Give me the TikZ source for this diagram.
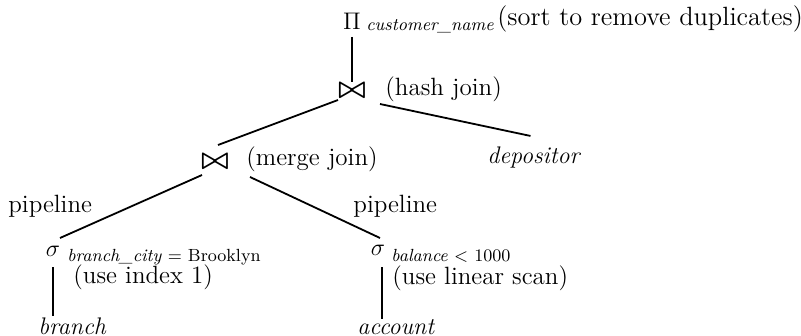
\documentclass[tikz,border=0pt]{standalone}
\usetikzlibrary{calc}
\begin{document}
\begin{tikzpicture}[x=0.5pt,y=-0.5pt,
  txt/.style={inner sep=0pt, font=\fontsize{12.5}{14}\selectfont},
  sub/.style={inner sep=0pt, font=\fontsize{8.8}{10}\selectfont\itshape},
  opn/.style={inner sep=0pt, font=\fontsize{13}{16}\selectfont},
  joinop/.style={inner sep=0pt, font=\fontsize{15}{16}\selectfont\boldmath},
  rel/.style={inner sep=0pt, font=\fontsize{12}{14}\selectfont\itshape},
  edge/.style={line width=0.9pt}]
\useasboundingbox (0,0) rectangle (801,336);
% root projection
\node[opn] (proj) at (352,21) {$\Pi$};
\node[sub, anchor=base west] (projsub) at (366,31) {customer\_name};
\node[txt, anchor=base west, font=\fontsize{13.2}{15}\selectfont] (projlbl) at (497,26) {(sort to remove duplicates)};
% hash join
\node[joinop] (hj) at (352,91) {$\bowtie$};
\node[txt, anchor=base west] (hjlbl) at (385,96) {(hash join)};
% merge join
\node[joinop] (mj) at (215,162) {$\bowtie$};
\node[txt, anchor=base west] (mjlbl) at (246,166) {(merge join)};
\node[rel, anchor=base west] (dep) at (487,163) {depositor};
% pipeline labels
\node[txt, anchor=base west] (pl1) at (8,212) {pipeline};
\node[txt, anchor=base west] (pl2) at (353,212) {pipeline};
% selections
\node[opn] (s1) at (53,251) {$\sigma$};
\node[sub, anchor=base west] (s1sub) at (67,261) {branch\_city {\upshape = Brooklyn}};
\node[txt, anchor=base west] (s1lbl) at (73,283) {(use index 1)};
\node[rel, anchor=base west] (br) at (38,334) {branch};
\node[opn] (s2) at (378,250) {$\sigma$};
\node[sub, anchor=base west] (s2sub) at (391,261) {balance {\upshape < 1000}};
\node[txt, anchor=base west] (s2lbl) at (392,284) {(use linear scan)};
\node[rel, anchor=base west] (acc) at (357,334) {account};
\coordinate (s2x) at ($(s2)+(4,0)$);
% edges
\draw[edge] ($(proj)+(0,16)$) -- ($(hj)+(0,-9)$);
\draw[edge] ($(hj)+(-14,9)$) -- ($(mj)+(3,-17)$);
\draw[edge] ($(hj)+(28,13)$) -- ($(dep.north)+(-3,-10)$);
\draw[edge] ($(mj)+(-13,13)$) -- ($(s1)+(7,-13)$);
\draw[edge] ($(mj)+(35,15)$) -- ($(s2)+(2,-12)$);
\draw[edge] ($(s1)+(0,16)$) -- ($(s1 |- br.north)+(0,-1)$);
\draw[edge] ($(s2x)+(0,17)$) -- (s2x |- acc.north);
\end{tikzpicture}
\end{document}
